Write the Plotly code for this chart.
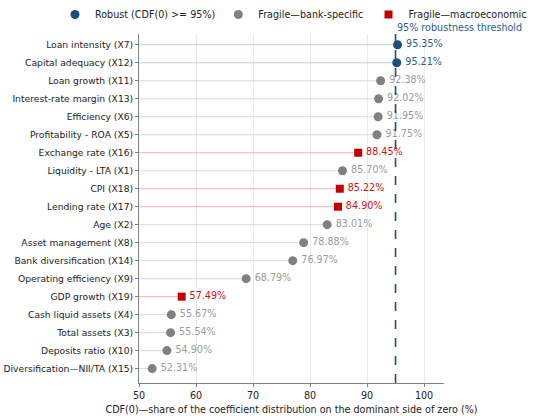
import plotly.graph_objects as go

# rows listed top to bottom
variables = [
    "Loan intensity (X7)", "Capital adequacy (X12)", "Loan growth (X11)",
    "Interest-rate margin (X13)", "Efficiency (X6)", "Profitability - ROA (X5)",
    "Exchange rate (X16)", "Liquidity - LTA (X1)", "CPI (X18)", "Lending rate (X17)",
    "Age (X2)", "Asset management (X8)", "Bank diversification (X14)",
    "Operating efficiency (X9)", "GDP growth (X19)", "Cash liquid assets (X4)",
    "Total assets (X3)", "Deposits ratio (X10)", "Diversification\u2014NII/TA (X15)",
]
cdf0 = [95.35, 95.21, 92.38, 92.02, 91.95, 91.75, 88.45, 85.70, 85.22, 84.90,
        83.01, 78.88, 76.97, 68.79, 57.49, 55.67, 55.54, 54.90, 52.31]
group = ["robust", "robust", "bank", "bank", "bank", "bank", "macro", "bank", "macro", "macro",
         "bank", "bank", "bank", "bank", "macro", "bank", "bank", "bank", "bank"]
threshold = 95
x_start = 50

FS = 9.6
SPINE = "#808080"

styles = {
    "robust": dict(name="Robust (CDF(0) >= 95%)", color="#1f4e79", stem="#b9cfe5",
                   text="#2d5b8a", symbol="circle", size=9, legend="legend", lx=0.10),
    "bank": dict(name="Fragile\u2014bank-specific", color="#808080", stem="#d9d9d9",
                 text="#9a9a9a", symbol="circle", size=9, legend="legend2", lx=0.397),
    "macro": dict(name="Fragile\u2014macroeconomic", color="#c00000", stem="#f2b3b3",
                  text="#d01010", symbol="square", size=8, legend="legend3", lx=0.67),
}

n = len(variables)
ypos = [n - 1 - i for i in range(n)]

fig = go.Figure()

# stems
for g, st in styles.items():
    xs, ys = [], []
    for v, y, gg in zip(cdf0, ypos, group):
        if gg == g:
            xs += [x_start, v, None]
            ys += [y, y, None]
    fig.add_trace(go.Scatter(x=xs, y=ys, mode="lines", line=dict(color=st["stem"], width=1),
                             showlegend=False, hoverinfo="skip"))

# markers + labels, one single-item legend per group so spacing can be set
legends = {}
for g, st in styles.items():
    xs = [v for v, gg in zip(cdf0, group) if gg == g]
    ys = [y for y, gg in zip(ypos, group) if gg == g]
    fig.add_trace(go.Scatter(
        x=xs, y=ys, mode="markers+text", name=st["name"], legend=st["legend"],
        marker=dict(color=st["color"], symbol=st["symbol"], size=st["size"]),
        text=["\u2009%.2f%%" % v for v in xs], textposition="middle right",
        textfont=dict(color=st["text"], size=FS),
    ))
    legends[st["legend"]] = dict(orientation="h", x=st["lx"], xref="container", xanchor="left",
                                 y=1.0, yref="container", yanchor="top", font=dict(size=FS),
                                 itemwidth=30, bgcolor="rgba(0,0,0,0)")

fig.add_shape(type="line", x0=threshold, x1=threshold, y0=0, y1=1, yref="paper",
              line=dict(color="#1f4e79", width=1.6, dash="dash"), layer="above")
fig.add_annotation(x=threshold, y=1.0, yref="paper", text="95% robustness threshold",
                   showarrow=False, xanchor="left", yanchor="bottom", xshift=-1, yshift=-1,
                   font=dict(color="#2d5b8a", size=FS))

fig.update_layout(
    width=550, height=416,
    margin=dict(l=139, r=106, t=34, b=33, autoexpand=False),
    paper_bgcolor="white", plot_bgcolor="white",
    font=dict(family="DejaVu Sans", size=FS, color="#222"),
    **legends,
)
fig.update_xaxes(range=[50, 103.5], tickvals=[50, 60, 70, 80, 90, 100], showgrid=True,
                 gridcolor="#ebebeb", zeroline=False, showline=True, linecolor=SPINE,
                 ticks="outside", ticklen=3, tickcolor=SPINE, automargin=False,
                 title=dict(text="CDF(0)\u2014share of the coefficient distribution on the dominant side of zero (%)",
                            font=dict(size=FS), standoff=6))
fig.update_yaxes(range=[-0.8, n - 0.4], tickvals=ypos, ticktext=variables, showgrid=False,
                 zeroline=False, showline=True, linecolor=SPINE, ticks="outside",
                 ticklen=3, tickcolor=SPINE, automargin=False, tickfont=dict(size=9.2))

# drop the default page margin so the figure sits at the window corner
fig.write_html("out.html", config={"displayModeBar": False},
               post_script="document.body.style.margin='0';")
